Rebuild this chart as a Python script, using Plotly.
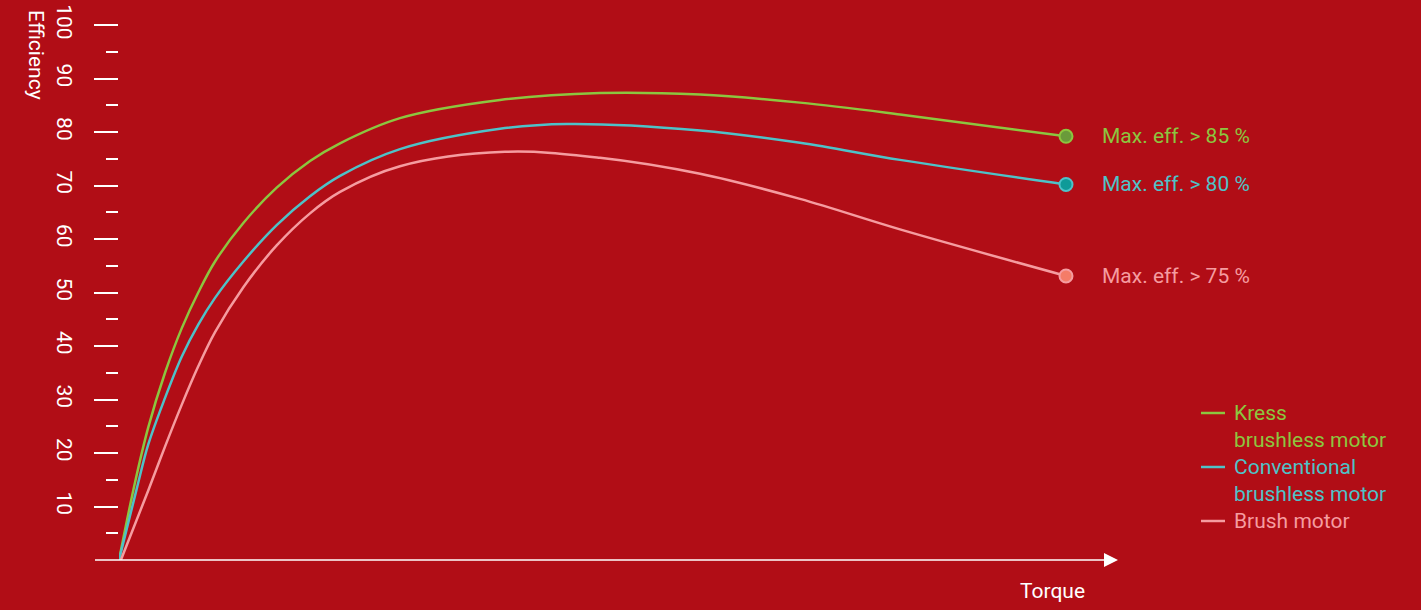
import plotly.graph_objects as go

# ---- data ----
torque_kress = [0, 1.69, 3.09, 4.86, 6.62, 8.37, 10.14, 13.13, 16.65, 20.17, 23.34, 29.67, 40.23, 50.79, 61.36, 71.91, 82.47, 100]
eff_kress = [0, 14.5, 24.8, 35.0, 43.3, 50.0, 55.8, 63.0, 69.6, 74.6, 77.9, 82.6, 86.0, 87.3, 87.0, 85.5, 83.3, 79.2]

torque_conv = [0, 1.87, 3.09, 4.86, 6.62, 8.37, 10.14, 13.13, 16.65, 20.17, 23.34, 29.67, 40.23, 47.3, 61.36, 71.91, 82.47, 100]
eff_conv = [0, 13.3, 21.6, 30.3, 38.0, 44.0, 49.0, 55.8, 62.6, 68.0, 71.8, 76.8, 80.6, 81.5, 80.3, 78.0, 74.8, 70.2]

torque_brush = [0.2, 3.09, 4.86, 6.62, 8.37, 10.14, 13.13, 16.65, 20.17, 23.34, 29.67, 40.76, 50.79, 61.36, 71.91, 82.47, 100]
eff_brush = [0, 13.0, 21.2, 29.0, 36.2, 42.6, 51.0, 58.8, 64.8, 68.8, 73.6, 76.3, 75.2, 72.2, 67.5, 61.8, 53.1]

series_names = ["Kress<br>brushless motor", "Conventional<br>brushless motor", "Brush motor"]
end_labels = ["Max. eff. > 85 %", "Max. eff. > 80 %", "Max. eff. > 75 %"]
y_tick_vals = [10, 20, 30, 40, 50, 60, 70, 80, 90, 100]
y_minor_vals = [5, 15, 25, 35, 45, 55, 65, 75, 85, 95]

line_colors = ["#8cc63f", "#4ec2c8", "#f59ca0"]
marker_fill = ["#6a9a3a", "#0f9a98", "#f47c68"]
bg = "#b10d16"
FONT = "Roboto"
FS = 21

series = [(torque_kress, eff_kress), (torque_conv, eff_conv), (torque_brush, eff_brush)]

PLOT_L, PLOT_R, PLOT_T, PLOT_B = 119, 1118, 9, 560
W = PLOT_R - PLOT_L
H = PLOT_B - PLOT_T

def px(x):
    return (x - PLOT_L) / W

def py(y):
    return (PLOT_B - y) / H

fig = go.Figure()
for (tx, ty), name, col in zip(series, series_names, line_colors):
    fig.add_trace(go.Scatter(
        x=tx, y=ty, mode="lines", name=name, showlegend=False,
        line=dict(color=col, width=2.5, shape="spline", smoothing=1.0),
        hoverinfo="skip",
    ))

for (tx, ty), col, fill, lab in zip(series, line_colors, marker_fill, end_labels):
    fig.add_trace(go.Scatter(
        x=[tx[-1]], y=[ty[-1]], mode="markers", showlegend=False,
        marker=dict(size=13, color=fill, line=dict(color=col, width=2)),
        cliponaxis=False, hoverinfo="skip",
    ))
    fig.add_annotation(x=tx[-1], y=ty[-1], text=lab, showarrow=False,
                       xanchor="left", yanchor="middle", xshift=34,
                       font=dict(family=FONT, size=FS, color=col))

# legend (line sample + coloured text, one entry per series)
legend_tops = [413, 467, 521]
for name, col, ly in zip(series_names, line_colors, legend_tops):
    fig.add_shape(type="line", xref="paper", yref="paper", x0=px(1201), x1=px(1225),
                  y0=py(ly), y1=py(ly), line=dict(color=col, width=2.5))
    fig.add_annotation(xref="paper", yref="paper", x=px(1232), y=py(ly), xanchor="left",
                       yanchor="top", yshift=14, text=name, showarrow=False, align="left",
                       font=dict(family=FONT, size=FS, color=col))

# x axis line with arrow
fig.add_shape(type="line", xref="paper", yref="paper", x0=px(95), x1=px(1106), y0=0, y1=0,
              line=dict(color="white", width=1.6), layer="above")
fig.add_shape(type="path", xref="paper", yref="paper", xsizemode="pixel", ysizemode="pixel",
              xanchor=px(1104), yanchor=0, path="M0,-7 L14,0 L0,7 Z",
              fillcolor="white", line=dict(color="white", width=0), layer="above")

fig.add_annotation(xref="paper", yref="paper", x=px(36), y=1, yanchor="top", xanchor="center",
                   text="Efficiency", textangle=90, showarrow=False, yshift=1,
                   font=dict(family=FONT, size=FS, color="white"))
fig.add_annotation(xref="paper", yref="paper", x=px(1052), y=0, yanchor="middle", xanchor="center",
                   yshift=-31, text="Torque", showarrow=False,
                   font=dict(family=FONT, size=FS, color="white"))

fig.update_layout(
    width=1421, height=610,
    paper_bgcolor=bg, plot_bgcolor=bg,
    margin=dict(l=PLOT_L, r=1421 - PLOT_R, t=PLOT_T, b=610 - PLOT_B, pad=0),
    font=dict(family=FONT, size=FS, color="white"),
    showlegend=False,
    xaxis=dict(range=[0, W / 9.47], showgrid=False, zeroline=False, automargin=False,
               showline=False, showticklabels=False, ticks=""),
    yaxis=dict(range=[0, 103], showgrid=False, zeroline=False, showline=False, automargin=False,
               tickvals=y_tick_vals, ticktext=[str(v) for v in y_tick_vals],
               ticks="outside", ticklen=24, tickwidth=1.5, tickcolor="white",
               tickangle=90, ticklabelstandoff=12,
               tickfont=dict(family=FONT, size=FS, color="white"),
               minor=dict(tickvals=y_minor_vals, ticks="outside", ticklen=12,
                          tickwidth=1.5, tickcolor="white")),
)

fig.write_html("out.html", config={"displayModeBar": False},
               post_script="document.body.style.margin='0';document.body.style.overflow='hidden';")
